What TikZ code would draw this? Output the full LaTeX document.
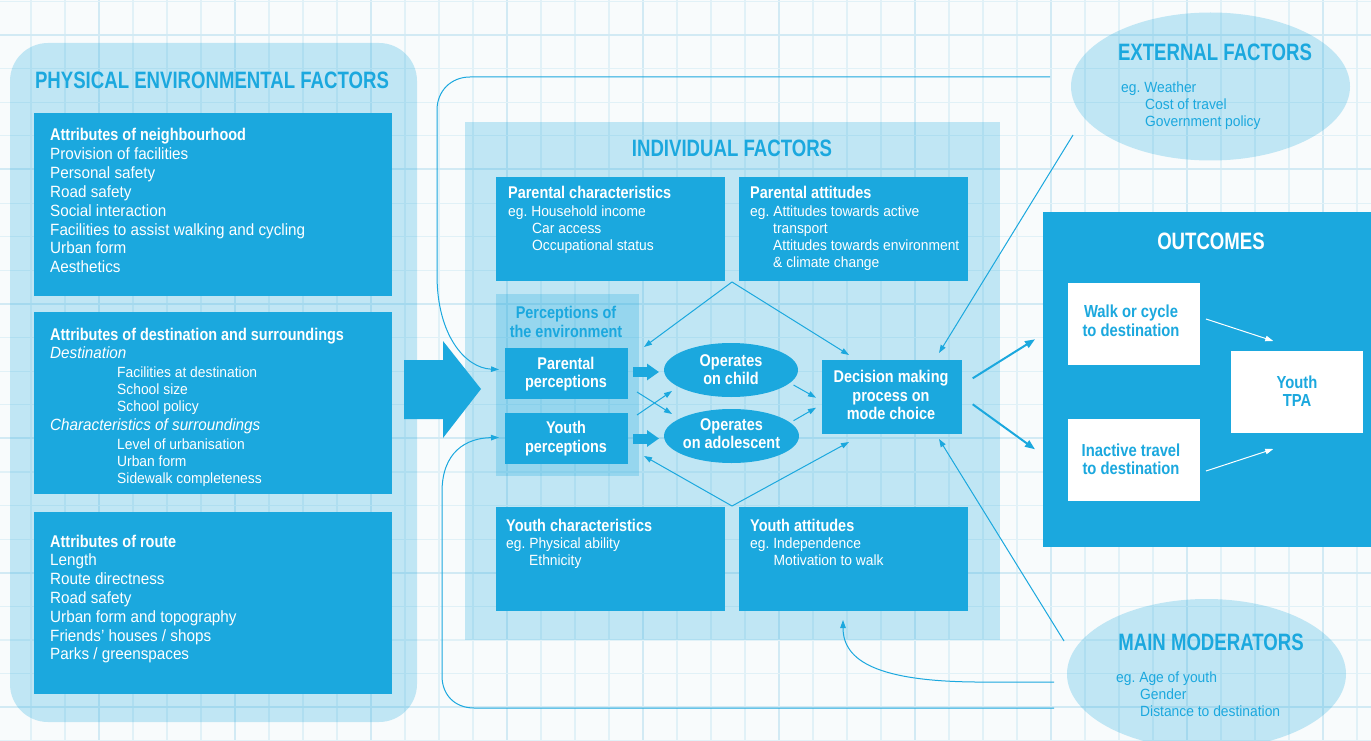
\documentclass[tikz,border=0pt]{standalone}
\usepackage{fontspec}
\setmainfont{Liberation Sans}[FakeStretch=0.935]
\newfontfamily\fb{Liberation Sans}[FakeStretch=0.85]
\newfontfamily\ft{Liberation Sans}[FakeStretch=0.785]
\usetikzlibrary{arrows.meta,calc,shapes.geometric}
\definecolor{cb}{HTML}{1BA8DE}
\definecolor{bgc}{HTML}{F8FBFC}
\definecolor{gridc}{HTML}{E1F1F7}
\definecolor{gridd}{HTML}{D2EAF4}
\frenchspacing
\begin{document}
\begin{tikzpicture}[x=1pt,y=-1pt,
  panel/.style={fill=cb, fill opacity=0.25, inner sep=0pt, outer sep=0pt},
  dbox/.style={fill=cb, inner sep=0pt, outer sep=0pt},
  wbox/.style={fill=white, inner sep=0pt, outer sep=0pt},
  lt/.style={anchor=base west, inner sep=0pt, text=white},
  ct/.style={anchor=base, inner sep=0pt, text=white},
  body/.style={font=\fontsize{16.3}{19}\selectfont},
  ital/.style={font=\fontsize{16.3}{19}\selectfont\itshape},
  small/.style={font=\fontsize{14.8}{17}\selectfont},
  head/.style={font=\fb\bfseries\fontsize{17}{19}\selectfont},
  ohead/.style={font=\fb\bfseries\fontsize{17.4}{19}\selectfont, text=cb},
  ttl/.style={font=\ft\bfseries\fontsize{23.7}{28}\selectfont, text=cb},
  conn/.style={draw=cb, line width=1pt, -{Triangle[length=8pt,width=5.5pt]}},
  tconn/.style={draw=cb, line width=2pt, -{Triangle[length=10pt,width=7.5pt]}},
  wconn/.style={draw=white, line width=1pt, -{Triangle[length=8pt,width=5.5pt]}},
  fat/.style={draw=cb, line width=10pt, -{Triangle[length=12pt,width=16pt]}}
]
\useasboundingbox (0,0) rectangle (1371,741);
\fill[bgc] (0,0) rectangle (1371,741);
% grid
\foreach \k in {0,...,39} {\draw[gridc, line width=1.2pt] ({31+34*\k},0) -- ({31+34*\k},741);}
\foreach \k in {0,...,9} {\draw[gridd, line width=2pt] ({99+136*\k},0) -- ({99+136*\k},741);}
\foreach \k in {0,...,22} {\draw[gridc, line width=1.2pt] (0,{1.5+33.6*\k}) -- (1371,{1.5+33.6*\k});}
\foreach \k in {0,...,5} {\draw[gridd, line width=2pt] (0,{35.1+134.4*\k}) -- (1371,{35.1+134.4*\k});}

% panels
\node[panel, rounded corners=38pt, minimum width=407pt, minimum height=679pt] (phys) at (213.5,382.5) {};
\node[panel, minimum width=535pt, minimum height=518pt] (indiv) at (732.5,381) {};
\node[panel, minimum width=143pt, minimum height=182pt] (perc) at (567.5,385) {};
\node[panel, ellipse, minimum width=279pt, minimum height=148pt] (ext) at (1210.5,86.5) {};
\node[panel, ellipse, minimum width=279pt, minimum height=150pt] (mod) at (1206.5,674) {};

% dark boxes
\node[dbox, minimum width=358pt, minimum height=183pt] (b1) at (213,204.5) {};
\node[dbox, minimum width=358pt, minimum height=182pt] (b2) at (213,403) {};
\node[dbox, minimum width=358pt, minimum height=182pt] (b3) at (213,603) {};
\node[dbox, minimum width=229pt, minimum height=104pt] (pc) at (610.5,229) {};
\node[dbox, minimum width=229pt, minimum height=104pt] (pa) at (853.5,229) {};
\node[dbox, minimum width=229pt, minimum height=104pt] (yc) at (610.5,559) {};
\node[dbox, minimum width=229pt, minimum height=104pt] (ya) at (853.5,559) {};
\node[dbox, minimum width=123pt, minimum height=51pt] (pp) at (566.5,373.5) {};
\node[dbox, minimum width=123pt, minimum height=51pt] (yp) at (566.5,438.5) {};
\node[dbox, ellipse, minimum width=134pt, minimum height=54pt] (child) at (731,370) {};
\node[dbox, ellipse, minimum width=135pt, minimum height=54pt] (adol) at (731.5,436) {};
\node[dbox, minimum width=140pt, minimum height=74pt] (dm) at (892,397) {};
\node[dbox, minimum width=328pt, minimum height=335pt] (out) at (1207,379.5) {};
\node[wbox, minimum width=132pt, minimum height=82pt] (walk) at (1134,324) {};
\node[wbox, minimum width=132pt, minimum height=82pt] (inact) at (1134,460) {};
\node[wbox, minimum width=132pt, minimum height=82pt] (tpa) at (1297,392) {};

% big arrow
\fill[cb] (404,360) -- (443,360) -- (443,341) -- (481,389) -- (443,438) -- (443,419) -- (404,419) -- cycle;

% titles
\node[ct, ttl] (tphys) at (212,89) {PHYSICAL ENVIRONMENTAL FACTORS};
\node[ct, ttl] (tind) at (732,157) {INDIVIDUAL FACTORS};
\node[ct, ttl, text=white] (tout) at (1211,249) {OUTCOMES};
\node[ct, ttl] (text) at (1215,61) {EXTERNAL FACTORS};
\node[ct, ttl] (tmod) at (1211,650) {MAIN MODERATORS};

% box 1
\node[lt, head] (h1) at (50,141) {Attributes of neighbourhood};
\foreach \t [count=\i] in {Provision of facilities, Personal safety, Road safety, Social interaction, Facilities to assist walking and cycling, Urban form, Aesthetics}
  {\node[lt, body] (na\i) at (50,{141+18.8*\i}) {\t};}
% box 2
\node[lt, head] (h2) at (50,340) {Attributes of destination and surroundings};
\node[lt, ital] (d1) at (50,358) {Destination};
\node[lt, small] (d2) at (117,377) {Facilities at destination};
\node[lt, small] (d3) at (117,394) {School size};
\node[lt, small] (d4) at (117,411) {School policy};
\node[lt, ital] (d5) at (50,430) {Characteristics of surroundings};
\node[lt, small] (d6) at (117,449) {Level of urbanisation};
\node[lt, small] (d7) at (117,466) {Urban form};
\node[lt, small] (d8) at (117,483) {Sidewalk completeness};
% box 3
\node[lt, head] (h3) at (50,547) {Attributes of route};
\foreach \t [count=\i] in {Length, Route directness, Road safety, Urban form and topography, Friends’ houses / shops, Parks / greenspaces}
  {\node[lt, body] (nc\i) at (50,{547+18.8*\i}) {\t};}

% individual boxes
\node[lt, head] (hpc) at (508,198) {Parental characteristics};
\node[lt, small] (pc1) at (508,216) {eg. Household income};
\node[lt, small] (pc2) at (532,233) {Car access};
\node[lt, small] (pc3) at (532,250) {Occupational status};
\node[lt, head] (hpa) at (750,198) {Parental attitudes};
\node[lt, small] (pa1) at (750,216) {eg. Attitudes towards active};
\node[lt, small] (pa2) at (773,233) {transport};
\node[lt, small] (pa3) at (773,250) {Attitudes towards environment};
\node[lt, small] (pa4) at (773,267) {\& climate change};
\node[lt, head] (hyc) at (506,531) {Youth characteristics};
\node[lt, small] (yc1) at (506,548) {eg. Physical ability};
\node[lt, small] (yc2) at (529,565) {Ethnicity};
\node[lt, head] (hya) at (750,531) {Youth attitudes};
\node[lt, small] (ya1) at (750,548) {eg. Independence};
\node[lt, small] (ya2) at (773.5,565) {Motivation to walk};

% perceptions
\node[ct, head, text=cb] (tp1) at (566,318) {Perceptions of};
\node[ct, head, text=cb] (tp2) at (566,337) {the environment};
\node[ct, head] (pp1) at (566,369) {Parental};
\node[ct, head] (pp2) at (566,387) {perceptions};
\node[ct, head] (yp1) at (566,433) {Youth};
\node[ct, head] (yp2) at (566,452) {perceptions};
\node[ct, head] (ch1) at (731,366) {Operates};
\node[ct, head] (ch2) at (731,384) {on child};
\node[ct, head] (ad1) at (731.5,430.5) {Operates};
\node[ct, head] (ad2) at (731.5,448.5) {on adolescent};
\node[ct, head] (dm1) at (891,382) {Decision making};
\node[ct, head] (dm2) at (891,401) {process on};
\node[ct, head] (dm3) at (891,419) {mode choice};

% outcomes
\node[ct, ohead] (w1) at (1131,317) {Walk or cycle};
\node[ct, ohead] (w2) at (1131,336) {to destination};
\node[ct, ohead] (i1) at (1131,456) {Inactive travel};
\node[ct, ohead] (i2) at (1131,474) {to destination};
\node[ct, ohead] (tp1b) at (1297,388) {Youth};
\node[ct, ohead] (tp2b) at (1297,406) {TPA};

% external / moderators
\node[lt, small, text=cb] (e1) at (1121,93) {eg. Weather};
\node[lt, small, text=cb] (e2) at (1145,110) {Cost of travel};
\node[lt, small, text=cb] (e3) at (1145,127) {Government policy};
\node[lt, small, text=cb] (m1) at (1116,682) {eg. Age of youth};
\node[lt, small, text=cb] (m2) at (1140,699) {Gender};
\node[lt, small, text=cb] (m3) at (1140,716) {Distance to destination};

% connectors
\coordinate (topL) at (1050,77);
\coordinate (botL) at (1054,708);
\coordinate (modL) at (1054,682);
\coordinate (extE) at (1073,135);
\coordinate (modE) at (1064,641);
\coordinate (apex1) at (732,282);
\coordinate (apex2) at (732,506);

\draw[conn] (topL) -- (470,77) .. controls (451,77) and (437,91) .. (437,110) -- (437,275) .. controls (437,335) and (465,368) .. ($(pp.west)+(-6,-4)$);
\draw[conn] (botL) -- (474,708) .. controls (455,708) and (442,695) .. (442,676) -- (442,492) .. controls (442,452) and (466,438) .. ($(yp.west)+(-6,-1)$);
\draw[conn] (modL) -- (975,682) .. controls (880,681) and (843,662) .. ($(ya.south)+(-10.5,9)$);
\draw[conn] (extE) -- ($(dm.north east)+(-23,-7)$);
\draw[conn] (modE) -- ($(dm.south east)+(-23,5)$);
\draw[conn] (apex1) -- ($(pp.north east)+(16,-1)$);
\draw[conn] (apex1) -- ($(dm.north west)+(27,-5)$);
\draw[conn] (apex2) -- ($(yp.south east)+(16,-8)$);
\draw[conn] (apex2) -- ($(dm.south west)+(27,8)$);
\draw[conn] ($(pp.south east)+(9,-7)$) -- ($(adol.center)+(-59.5,-22)$);
\draw[conn] ($(yp.north east)+(9,2)$) -- ($(child.center)+(-59,21)$);
\draw[conn] ($(child.center)+(62.5,15)$) -- ($(dm.west)+(-6,0.7)$);
\draw[conn] ($(adol.center)+(62,-15.3)$) -- ($(dm.west)+(-6,10.7)$);
\draw[fat] ($(pp.east)+(5,-1.5)$) -- ($(child.west |- pp.east)+(-5,-1.5)$);
\draw[fat] ($(yp.east)+(5,0)$) -- ($(adol.west |- yp.east)+(-5,0)$);
\draw[tconn] ($(dm.east)+(10.7,-18.7)$) -- ($(out.west)+(-8,-40.2)$);
\draw[tconn] ($(dm.east)+(10.7,7.3)$) -- ($(out.west)+(-8,69.8)$);
\draw[wconn] ($(walk.east)+(6,-5)$) -- ($(tpa.north)+(-23.7,-10)$);
\draw[wconn] ($(inact.east)+(6,11)$) -- ($(tpa.south)+(-23.7,16)$);
\end{tikzpicture}
\end{document}
